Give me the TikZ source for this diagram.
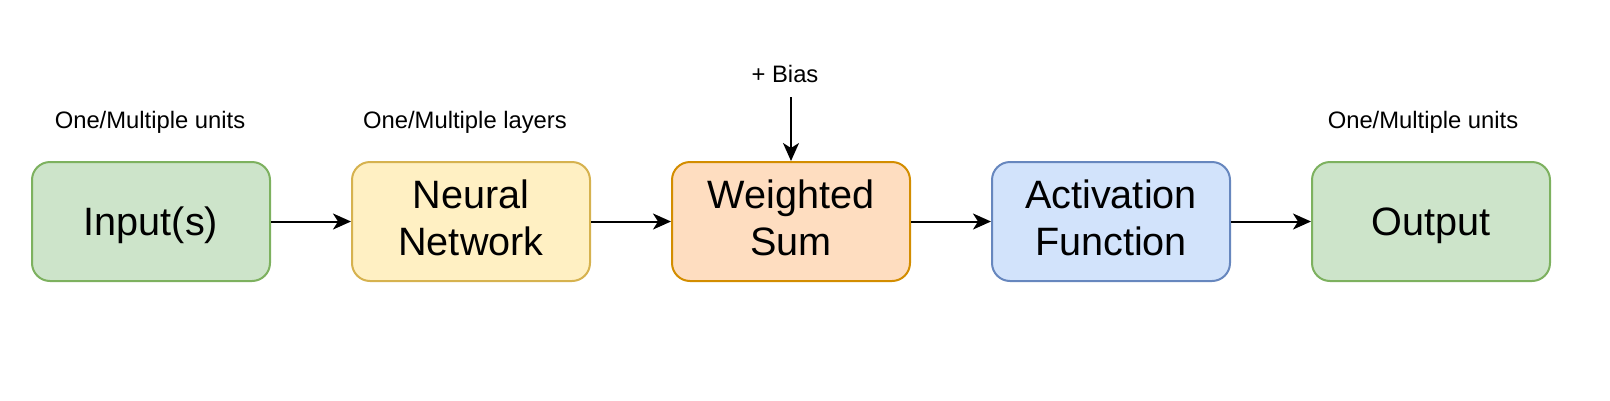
\documentclass[tikz,border=0pt]{standalone}
\usepackage{fontspec}
\setmainfont{Liberation Sans}
\usetikzlibrary{arrows.meta}
\definecolor{gfill}{HTML}{CDE4CA}\definecolor{gline}{HTML}{7DB15F}
\definecolor{yfill}{HTML}{FFF0C3}\definecolor{yline}{HTML}{D6B24F}
\definecolor{ofill}{HTML}{FEDDC0}\definecolor{oline}{HTML}{D38D00}
\definecolor{bfill}{HTML}{D2E3FB}\definecolor{bline}{HTML}{6787BE}
\begin{document}
\begin{tikzpicture}[x=1pt,y=-1pt,
  box/.style={draw, line width=2pt, rounded corners=18pt, minimum width=238pt, minimum height=119pt, inner sep=0pt},
  big/.style={font=\fontsize{39.6}{47.5}\selectfont, inner sep=0pt, anchor=base},
  small/.style={font=\fontsize{23.8}{28}\selectfont, inner sep=0pt, anchor=base},
  arr/.style={line width=2pt, -{Stealth[length=18pt, width=16pt, inset=5pt]}}]
\useasboundingbox (0,0) rectangle (1610,400);
\node[box, fill=gfill, draw=gline] (inp) at (151,221.5) {};
\node[box, fill=yfill, draw=yline] (nn)  at (471,221.5) {};
\node[box, fill=ofill, draw=oline] (ws)  at (791,221.5) {};
\node[box, fill=bfill, draw=bline] (af)  at (1111,221.5) {};
\node[box, fill=gfill, draw=gline] (out) at (1431,221.5) {};
\node[big] (inptxt) at ([yshift=-13.5pt]inp.center) {Input(s)};
\node[big] (nntxta) at ([yshift=13.5pt]nn.center) {Neural};
\node[big] (nntxtb) at ([yshift=-33.5pt]nn.center) {Network};
\node[big] (wstxta) at ([yshift=13.5pt]ws.center) {Weighted};
\node[big] (wstxtb) at ([yshift=-33.5pt]ws.center) {Sum};
\node[big] (aftxta) at ([yshift=13.5pt]af.center) {Activation};
\node[big] (aftxtb) at ([yshift=-33.5pt]af.center) {Function};
\node[big] (outtxt) at ([yshift=-13.5pt]out.center) {Output};
\node[small] (l1) at (150,128) {One/Multiple units};
\node[small] (l2) at (465,128) {One/Multiple layers};
\node[small] (l3) at (1423,128) {One/Multiple units};
\node[small] (bias) at (785,82) {+ Bias};
\coordinate (biasend) at (791,97);
\draw[arr] (inp.east) -- (nn.west);
\draw[arr] (nn.east) -- (ws.west);
\draw[arr] (ws.east) -- (af.west);
\draw[arr] (af.east) -- (out.west);
\draw[arr] (biasend) -- (ws.north);
\end{tikzpicture}
\end{document}
